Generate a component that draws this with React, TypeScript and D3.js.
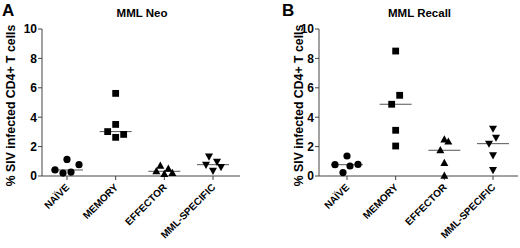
import React from "react";
import * as d3 from "d3";

const categories = ["NAÏVE", "MEMORY", "EFFECTOR", "MML-SPECIFIC"];
const yTicks = [0, 2, 4, 6, 8, 10];

const neoNaive = [0.41, 1.13, 0.2, 0.27, 0.77];
const neoMemory = [5.62, 3.51, 3.02, 2.83, 2.63];
const neoEffector = [0.7, 0.5, 0.32, 0.2, 0.14];
const neoSpecific = [1.32, 0.97, 0.77, 0.61, 0.36];

const recNaive = [1.36, 0.77, 0.79, 0.68, 0.23];
const recMemory = [8.5, 5.49, 4.88, 3.11, 2.04];
const recEffector = [2.49, 2.34, 1.75, 0.88, 0.02];
const recSpecific = [3.22, 2.61, 2.2, 1.41, 0.41];

// horizontal jitter offsets (in px) of each point
const neoOffsets = [
  [-12, 0, -4, 4, 12],
  [0, 0, -8, 8, 0],
  [-4, 4, -8, 8, 0],
  [-4, 4, -7, 8, 0],
];
const recOffsets = [
  [0, -12, 11, 3, -4],
  [0, 4, -4, 0, 0],
  [0, 4, -4, 0, 0],
  [0, 3, -4, 0, 0],
];

const shapes = ["circle", "square", "triangle", "invtriangle"];

const font = "'Liberation Sans', Arial, sans-serif";

function Marker({ shape, x, y }: { shape: string; x: number; y: number }) {
  const r = 3.6;
  if (shape === "circle") return <circle cx={x} cy={y} r={r} fill="#000" />;
  if (shape === "square")
    return <rect x={x - 3.4} y={y - 3.4} width={6.8} height={6.8} fill="#000" />;
  if (shape === "triangle")
    return (
      <path
        d={`M${x},${y - 4.2}L${x + 4},${y + 3}L${x - 4},${y + 3}Z`}
        fill="#000"
      />
    );
  return (
    <path d={`M${x},${y + 4.2}L${x + 4},${y - 3}L${x - 4},${y - 3}Z`} fill="#000" />
  );
}

function Panel({
  letter,
  title,
  data,
  offsets,
  axisX,
  axisEnd,
  cat0,
  cat1,
  letterX,
  ylabelX,
}: {
  letter: string;
  title: string;
  data: number[][];
  offsets: number[][];
  axisX: number;
  axisEnd: number;
  cat0: number;
  cat1: number;
  letterX: number;
  ylabelX: number;
}) {
  const y = d3.scaleLinear().domain([0, 10]).range([176, 29]);
  const x = d3.scalePoint<string>().domain(categories).range([cat0, cat1]);
  const axisColor = "#444";
  return (
    <g>
      <text x={letterX} y={16} fontFamily={font} fontWeight="bold" fontSize={17}>
        {letter}
      </text>
      <text
        x={(axisX + axisEnd) / 2 + 1}
        y={17}
        textAnchor="middle"
        fontFamily={font}
        fontWeight="bold"
        fontSize={11.5}
      >
        {title}
      </text>
      <text
        transform={`translate(${ylabelX},${(y(0) + y(10)) / 2 + 3}) rotate(-90)`}
        textAnchor="middle"
        fontFamily={font}
        fontWeight="bold"
        fontSize={12.3}
      >
        % SIV infected CD4+ T cells
      </text>
      <line x1={axisX} x2={axisX} y1={y(10)} y2={y(0)} stroke={axisColor} strokeWidth={1} />
      <line x1={axisX} x2={axisEnd} y1={y(0)} y2={y(0)} stroke={axisColor} strokeWidth={1} />
      {yTicks.map((t) => (
        <g key={t}>
          <line x1={axisX - 4} x2={axisX} y1={y(t)} y2={y(t)} stroke={axisColor} />
          <text
            x={axisX - 5}
            y={y(t) + 4.3}
            textAnchor="end"
            fontFamily={font}
            fontWeight="bold"
            fontSize={12}
          >
            {t}
          </text>
        </g>
      ))}
      {categories.map((c, i) => {
        const cx = x(c) as number;
        const vals = data[i];
        const med = d3.median(vals) as number;
        return (
          <g key={c}>
            <line x1={cx} x2={cx} y1={y(0)} y2={y(0) + 4} stroke={axisColor} />
            <text
              transform={`translate(${cx + 3},${y(0) + 12}) rotate(-45)`}
              textAnchor="end"
              fontFamily={font}
              fontWeight="bold"
              fontSize={10}
            >
              {c}
            </text>
            <line
              x1={cx - 16}
              x2={cx + 16}
              y1={y(med)}
              y2={y(med)}
              stroke="#555"
              strokeWidth={1}
            />
            {vals.map((v, j) => (
              <Marker key={j} shape={shapes[i]} x={cx + offsets[i][j]} y={y(v)} />
            ))}
          </g>
        );
      })}
    </g>
  );
}

export default function App() {
  return (
    <svg width={520} height={248} style={{ position: "absolute", left: 0, top: 0, background: "#fff" }}>
      <Panel
        letter="A"
        title="MML Neo"
        data={[neoNaive, neoMemory, neoEffector, neoSpecific]}
        offsets={neoOffsets}
        axisX={42}
        axisEnd={240}
        cat0={67}
        cat1={213}
        letterX={2}
        ylabelX={15}
      />
      <Panel
        letter="B"
        title="MML Recall"
        data={[recNaive, recMemory, recEffector, recSpecific]}
        offsets={recOffsets}
        axisX={319}
        axisEnd={518}
        cat0={347}
        cat1={493}
        letterX={282}
        ylabelX={303}
      />
    </svg>
  );
}
